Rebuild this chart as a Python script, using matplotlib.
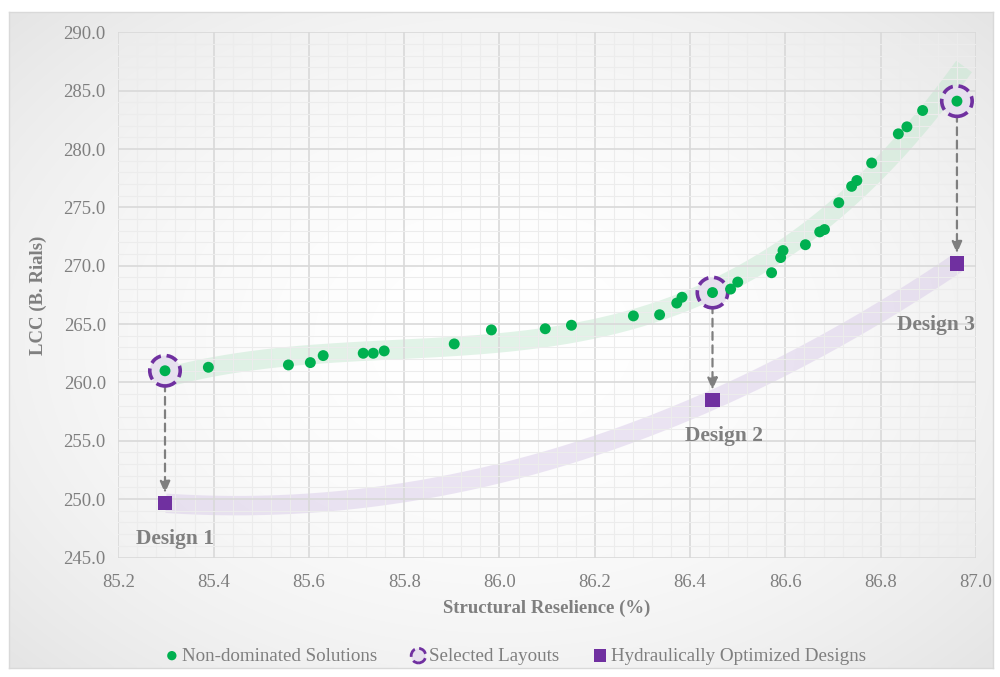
import matplotlib.pyplot as plt
import numpy as np

# non-dominated solutions: structural resilience (%) vs life cycle cost (billion rials)
res_nd = [85.298, 85.389, 85.557, 85.603, 85.630, 85.714, 85.735, 85.758, 85.905, 85.983,
          86.096, 86.151, 86.281, 86.336, 86.372, 86.383, 86.447, 86.485, 86.500, 86.571,
          86.590, 86.595, 86.642, 86.672, 86.682, 86.712, 86.739, 86.750, 86.781, 86.837,
          86.855, 86.888, 86.960]
lcc_nd = [261.0, 261.3, 261.5, 261.7, 262.3, 262.5, 262.5, 262.7, 263.3, 264.5,
          264.6, 264.9, 265.7, 265.8, 266.8, 267.3, 267.7, 268.0, 268.6, 269.4,
          270.7, 271.3, 271.8, 272.9, 273.1, 275.4, 276.8, 277.3, 278.8, 281.3,
          281.9, 283.3, 284.1]

# the three layouts picked from the front and their hydraulically optimized costs
selected_idx = [0, 16, 32]
lcc_hyd = [249.65, 258.5, 270.2]
design_names = ["Design 1", "Design 2", "Design 3"]
label_pos = [(85.319, 246.6), (86.472, 255.4), (86.915, 264.9)]

GREEN = "#00b050"
PURPLE = "#7030a0"
GRAY = "#7f7f7f"
SERIF = ["Liberation Serif", "DejaVu Serif"]

plt.rcParams['font.family'] = SERIF

fig = plt.figure(figsize=(10, 6.77), dpi=100)

# chart area background with soft radial shading and a thin border
bg = fig.add_axes([0.0093, 0.0133, 0.9837, 0.9694], zorder=0)
gx, gy = np.meshgrid(np.linspace(-1, 1, 300), np.linspace(-1, 1, 200))
r = np.clip(np.sqrt((gx * 0.95) ** 2 + (gy * 0.9) ** 2), 0, 1.3)
shade = 1.0 - 0.06 * r ** 2.0
bg.imshow(np.dstack([shade] * 3), aspect='auto', extent=[0, 1, 0, 1], interpolation='bilinear')
bg.set_xticks([])
bg.set_yticks([])
for s in bg.spines.values():
    s.set_color("#d9d9d9")
    s.set_linewidth(1.0)

ax = fig.add_axes([0.1183, 0.1765, 0.8577, 0.7758], zorder=1)
ax.patch.set_alpha(0)

ax.set_xlim(85.2, 87.0)
ax.set_ylim(245.0, 290.0)
ax.set_xticks(np.arange(85.2, 87.01, 0.2))
ax.set_yticks(np.arange(245, 290.1, 5))
ax.set_xticks(np.arange(85.2, 87.01, 0.04), minor=True)
ax.set_yticks(np.arange(245, 290.1, 1.0), minor=True)
ax.xaxis.set_major_formatter(plt.FuncFormatter(lambda v, p: f"{v:.1f}"))
ax.yaxis.set_major_formatter(plt.FuncFormatter(lambda v, p: f"{v:.1f}"))
ax.grid(which='major', color="#d9d9d9", linewidth=1.2, zorder=1)
ax.grid(which='minor', color="#ececec", linewidth=0.8, zorder=1)
ax.set_axisbelow(True)
ax.tick_params(which='both', length=0, labelsize=13.5, labelcolor=GRAY, pad=9)
ax.tick_params(axis='x', pad=12)
for s in ax.spines.values():
    s.set_visible(False)

ax.set_xlabel("Structural Reselience (%)", fontsize=13.5, fontweight='bold', color=GRAY, labelpad=6)
ax.set_ylabel("LCC (B. Rials)", fontsize=13.5, fontweight='bold', color=GRAY, labelpad=12)

# faint trend bands behind the grid
res_nd = np.array(res_nd)
lcc_nd = np.array(lcc_nd)
res_sel = res_nd[selected_idx]
lcc_sel = lcc_nd[selected_idx]

fit_nd = np.polyfit(res_nd, lcc_nd, 3)
xs = np.linspace(85.30, 86.975, 200)
ax.plot(xs, np.polyval(fit_nd, xs), color="#bfe6cc", lw=14, alpha=0.45,
        solid_capstyle='butt', zorder=0.4)

fit_hyd = np.polyfit(res_sel, lcc_hyd, 2)
xs2 = np.linspace(85.30, 86.96, 200)
ax.plot(xs2, np.polyval(fit_hyd, xs2), color="#d9cbe9", lw=14, alpha=0.5,
        solid_capstyle='butt', zorder=0.4)

# dashed arrows from each selected layout to its optimized design
for x, y0, y1 in zip(res_sel, lcc_sel, lcc_hyd):
    ax.annotate("", xy=(x, y1 + 0.85), xytext=(x, y0 - 1.1),
                arrowprops=dict(arrowstyle='-|>,head_length=0.7,head_width=0.3',
                                color=GRAY, lw=1.6, linestyle=(0, (3.5, 2.5)),
                                shrinkA=0, shrinkB=0), zorder=3)

ax.scatter(res_nd, lcc_nd, s=62, color=GREEN, edgecolors='none', zorder=5,
           label="Non-dominated Solutions")
ax.scatter(res_sel, lcc_sel, s=480, facecolor="#e6e0ee", edgecolors=PURPLE,
           linewidths=2.6, linestyle=(0, (3.2, 1.6)), zorder=4, label="Selected Layouts")
ax.scatter(res_sel, lcc_hyd, s=105, marker='s', color=PURPLE, edgecolors='none', zorder=5,
           label="Hydraulically Optimized Designs")

for name, (lx, ly) in zip(design_names, label_pos):
    ax.text(lx, ly, name, ha='center', va='center', fontsize=15.5, fontweight='bold',
            color=GRAY, zorder=6)

handles, labels = ax.get_legend_handles_labels()
leg = fig.legend(handles, labels, loc='center', bbox_to_anchor=(0.514, 1 - 656 / 677),
                 ncol=3, frameon=False, fontsize=13.7, handletextpad=0.05,
                 handlelength=1.0, columnspacing=1.65)
for h, sz in zip(leg.legend_handles, [45, 110, 80]):
    h.set_sizes([sz])
leg.legend_handles[1].set_linewidth(2.0)
for t in leg.get_texts():
    t.set_color(GRAY)

fig.savefig("out.png", dpi=100)
